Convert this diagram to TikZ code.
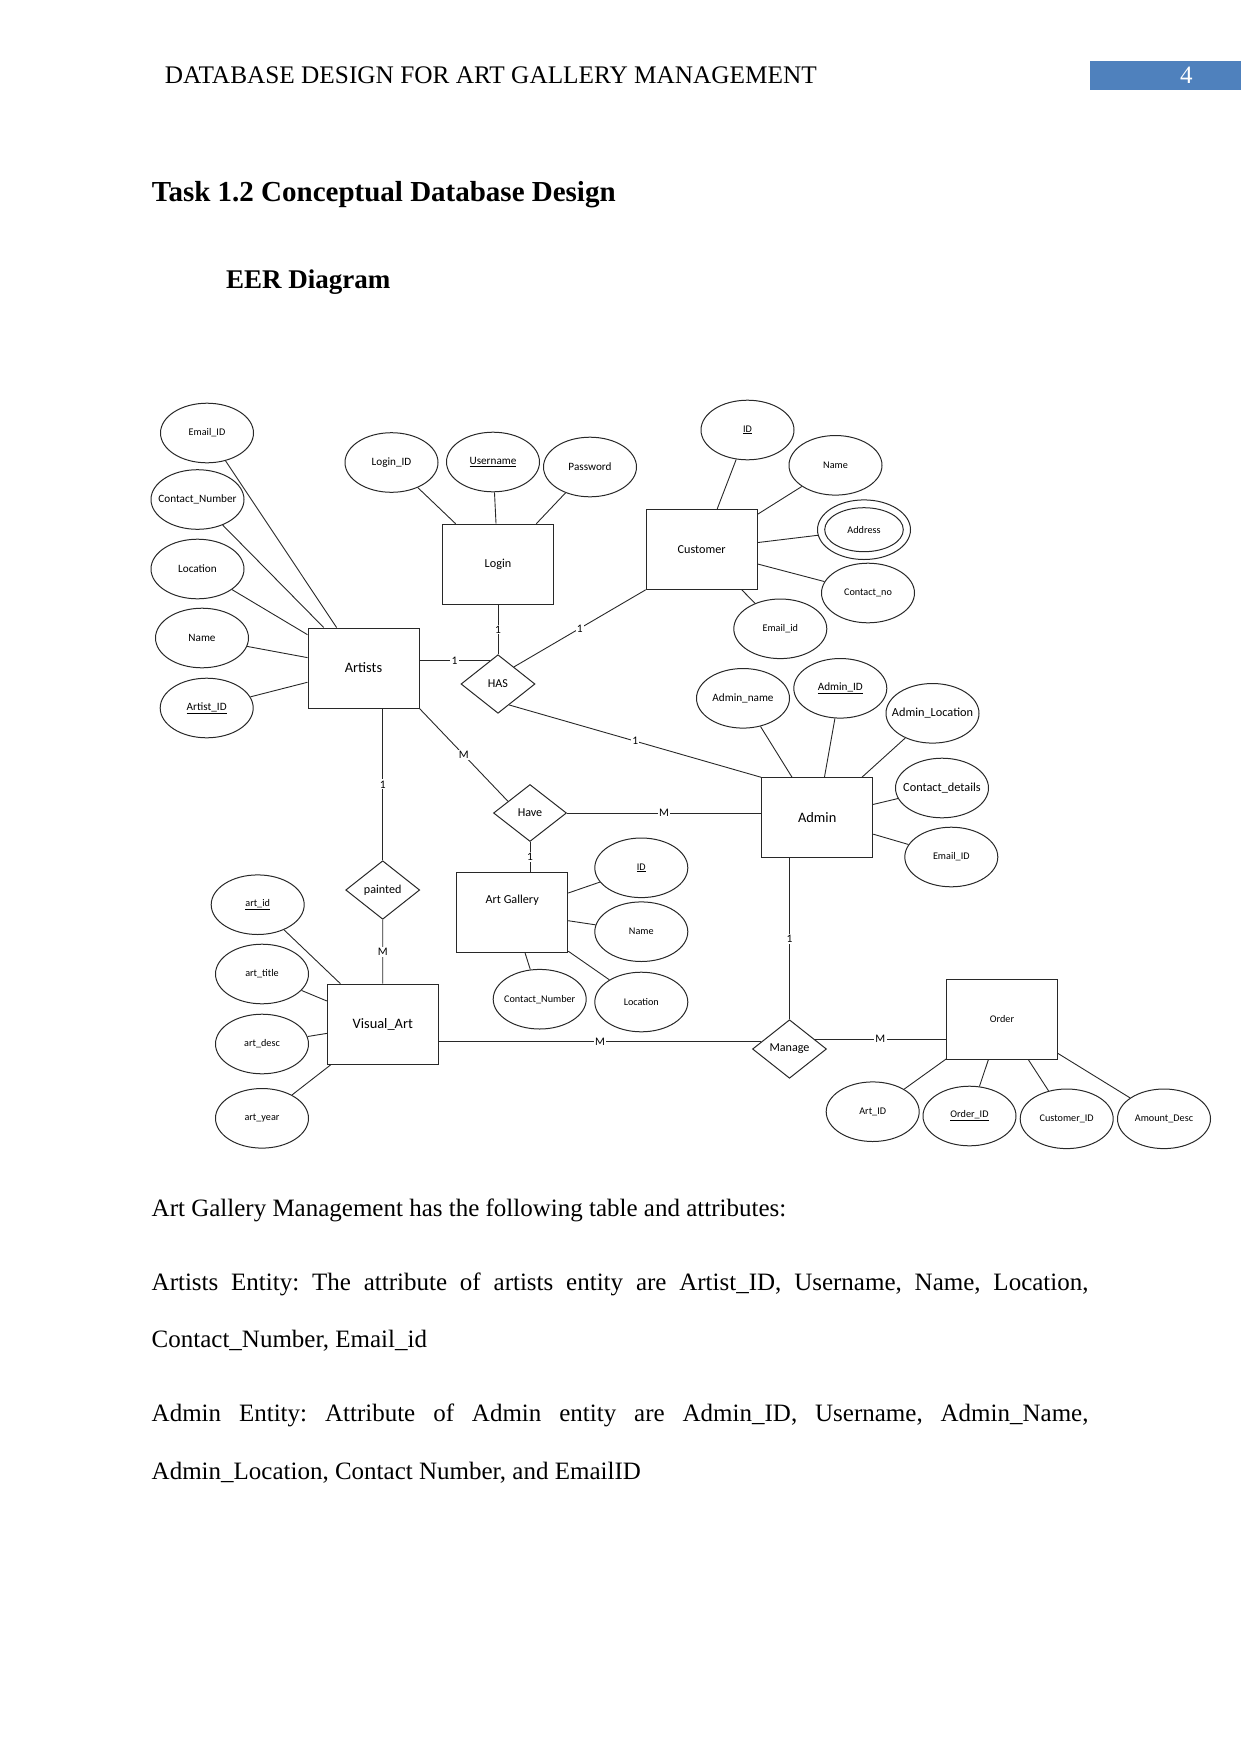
\documentclass[tikz,border=0pt]{standalone}
\usepackage{fontspec}
\setmainfont{Liberation Serif}
\newfontfamily\diafont{Carlito}
\usetikzlibrary{shapes.geometric,calc}
\definecolor{pgblue}{RGB}{79,129,189}
\definecolor{ink}{RGB}{40,40,40}
\newcommand\attxt[1]{\makebox[0pt]{#1}}
\frenchspacing
\begin{document}
\begin{tikzpicture}[x=1pt,y=-1pt,
  ent/.style={draw=ink, rectangle, minimum width=111pt, minimum height=80pt, inner sep=0pt, line width=1pt, font=\diafont\fontsize{14.4}{16}\selectfont},
  entm/.style={ent, font=\diafont\fontsize{12.2}{14}\selectfont},
  ents/.style={ent, font=\diafont\fontsize{10.2}{12}\selectfont},
  attr/.style={draw=ink, ellipse, minimum width=93pt, minimum height=59.6pt, inner sep=0pt, line width=1pt, font=\diafont\fontsize{11.2}{13}\selectfont},
  attrs/.style={attr, font=\diafont\fontsize{10.2}{12}\selectfont},
  attrl/.style={attr, font=\diafont\fontsize{12.3}{14}\selectfont},
  rel/.style={draw=ink, diamond, minimum width=74pt, minimum height=58.6pt, inner sep=0pt, line width=1pt, font=\diafont\fontsize{12.1}{14}\selectfont},
  conn/.style={draw=ink, line width=0.9pt},
  card/.style={fill=white, inner sep=1.2pt, font=\diafont\fontsize{11.5}{13}\selectfont},
  body/.style={anchor=base west, inner sep=0pt, font=\fontsize{25}{30}\selectfont},
]
\useasboundingbox (0,0) rectangle (1241,1754);

% ---------- header ----------
\node[body, font=\fontsize{25.3}{30}\selectfont] (head) at (164.6,83.3) {DATABASE DESIGN FOR ART GALLERY MANAGEMENT};
\node[fill=pgblue, minimum width=151pt, minimum height=28.6pt, inner sep=0pt, anchor=north west] (pgbox) at (1090,60.7) {};
\node[anchor=base, inner sep=0pt, text=white, font=\fontsize{25}{30}\selectfont] (pgnum) at (1186.3,83.3) {4};

\node[body, font=\bfseries\fontsize{29}{34}\selectfont] (title) at (151.7,201.7) {Task 1.2 Conceptual Database Design};
\node[body, font=\bfseries\fontsize{27}{32}\selectfont] (sub) at (226,288.3) {EER Diagram};

% ---------- entities ----------
\node[ent]  (artists)  at (363.5,668)  {Artists};
\node[entm] (login)    at (498,564.2)  {Login};
\node[entm] (customer) at (701.7,549.3){Customer};
\node[ent]  (admin)    at (817.2,817.8){Admin};
\node[entm] (ag)       at (512.2,912.3){};
\node[font=\diafont\fontsize{12.2}{14}\selectfont, inner sep=0pt] (agtxt) at ([yshift=11.6pt]ag.center) {Art Gallery};
\node[ent]  (visual)   at (382.8,1024.2){Visual\_Art};
\node[ents] (order)    at (1002,1019)  {Order};

% ---------- relationships ----------
\node[rel] (has)     at (498,684)     {HAS};
\node[rel, minimum width=73pt, minimum height=57pt] (have) at (530,813) {Have};
\node[rel] (painted) at (382.7,890)   {painted};
\node[rel] (manage)  at (789.5,1049)  {Manage};

% ---------- Artists attributes ----------
\node[attrs] (arEmail) at (207,433)     {\attxt{Email\_ID}};
\node[attr]  (arCont)  at (197.5,499.5) {\attxt{Contact\_Number}};
\node[attr]  (arLoc)   at (197.5,569)   {\attxt{Location}};
\node[attr]  (arName)  at (202,638)     {\attxt{Name}};
\node[attr]  (arID)    at (206.7,708)   {\attxt{\underline{Artist\_ID}}};

% ---------- Login attributes ----------
\node[attr] (lgID)   at (391.5,462.5) {\attxt{Login\_ID}};
\node[attr] (lgUser) at (493,462)     {\attxt{\underline{Username}}};
\node[attr] (lgPass) at (590,467)     {\attxt{Password}};

% ---------- Customer attributes ----------
\node[attrs] (cuID)    at (747.5,430)   {\attxt{\underline{ID}}};
\node[attrs] (cuName)  at (835.5,465.3) {\attxt{Name}};
\node[attrs] (cuAddr)  at (864,529.7)   {\attxt{Address}};
\node[draw=ink, ellipse, minimum width=78.6pt, minimum height=44pt, inner sep=0pt, line width=1pt] (cuAddrIn) at (864,529.7) {};
\node[attrs] (cuCont)  at (868,593)     {\attxt{Contact\_no}};
\node[attrs] (cuEmail) at (780.3,628.8) {\attxt{Email\_id}};

% ---------- Admin attributes ----------
\node[attr]  (adName)  at (743,698.3)   {\attxt{Admin\_name}};
\node[attr]  (adID)    at (840.3,688.3) {\attxt{\underline{Admin\_ID}}};
\node[attrl] (adLoc)   at (932.5,713.3) {\attxt{Admin\_Location}};
\node[attrl] (adCont)  at (942,788)     {\attxt{Contact\_details}};
\node[attrs] (adEmail) at (951.3,857)   {\attxt{Email\_ID}};

% ---------- Art Gallery attributes ----------
\node[attrs] (agID)   at (641.3,867.8) {\attxt{\underline{ID}}};
\node[attrs] (agName) at (641.3,931.7) {\attxt{Name}};
\node[attrs] (agCont) at (539.7,999.2) {\attxt{Contact\_Number}};
\node[attrs] (agLoc)  at (641.3,1002)  {\attxt{Location}};

% ---------- Visual_Art attributes ----------
\node[attrs] (vaID)    at (257.7,904.7) {\attxt{\underline{art\_id}}};
\node[attrs] (vaTitle) at (262,974)     {\attxt{art\_title}};
\node[attrs] (vaDesc)  at (262,1044)    {\attxt{art\_desc}};
\node[attrs] (vaYear)  at (262,1118.3)  {\attxt{art\_year}};

% ---------- Order attributes ----------
\node[attrs] (orArt)  at (872.7,1111.7) {\attxt{Art\_ID}};
\node[attrs] (orID)   at (969.5,1116)   {\attxt{\underline{Order\_ID}}};
\node[attrs] (orCust) at (1066.7,1118.8){\attxt{Customer\_ID}};
\node[attrs] (orAmt)  at (1164,1118.8)  {\attxt{Amount\_Desc}};

% ---------- attribute links ----------
\foreach \a in {arEmail,arCont,arLoc,arName,arID} \draw[conn] (\a) -- (artists);
\foreach \a in {lgID,lgUser,lgPass} \draw[conn] (\a) -- (login);
\foreach \a in {cuID,cuName,cuAddr,cuCont,cuEmail} \draw[conn] (\a) -- (customer);
\foreach \a in {adName,adID,adLoc,adCont,adEmail} \draw[conn] (\a) -- (admin);
\foreach \a in {agID,agName,agCont,agLoc} \draw[conn] (\a) -- (ag);
\foreach \a in {vaID,vaTitle,vaDesc,vaYear} \draw[conn] (\a) -- (visual);
\foreach \a in {orArt,orID,orCust,orAmt} \draw[conn] (\a) -- (order);

% ---------- relationship links ----------
\draw[conn] (artists.east |- has.110) -- node[card]{1} (has.110);
\draw[conn] (login) -- node[card]{1} (has);
\draw[conn] (has.47) -- node[card]{1} (customer.south west);
\draw[conn] (has.298) -- node[card]{1} (admin.north west);
\draw[conn] (artists.south -| painted.north) -- node[card]{1} (painted.north);
\draw[conn] (painted) -- node[card]{M} (visual);
\draw[conn] (artists.south east) -- node[card]{M} (have.152);
\draw[conn] (have.east) -- node[card]{M} (admin.west |- have.east);
\draw[conn] (have.south) -- node[card]{1} (have.south |- ag.north);
\draw[conn] (admin.south -| manage.north) -- node[card]{1} (manage.north);
\draw[conn] (visual.east |- manage.165) -- node[card]{M} (manage.165);
\draw[conn] (manage.21) -- node[card]{M} (order.west |- manage.21);

% ---------- body text ----------
\node[body] (t1) at (151.5,1216.7) {Art Gallery Management has the following table and attributes:};
\node[body] (t2) at (151.5,1290.7) {\makebox[936.8pt][s]{Artists Entity: The attribute of artists entity are Artist\_ID, Username, Name, Location,}};
\node[body] (t3) at (151.5,1347.7) {Contact\_Number, Email\_id};
\node[body] (t4) at (151.5,1421.7) {\makebox[936.8pt][s]{Admin Entity: Attribute of Admin entity are Admin\_ID, Username, Admin\_Name,}};
\node[body] (t5) at (151.5,1479) {Admin\_Location, Contact Number, and EmailID};
\end{tikzpicture}
\end{document}
